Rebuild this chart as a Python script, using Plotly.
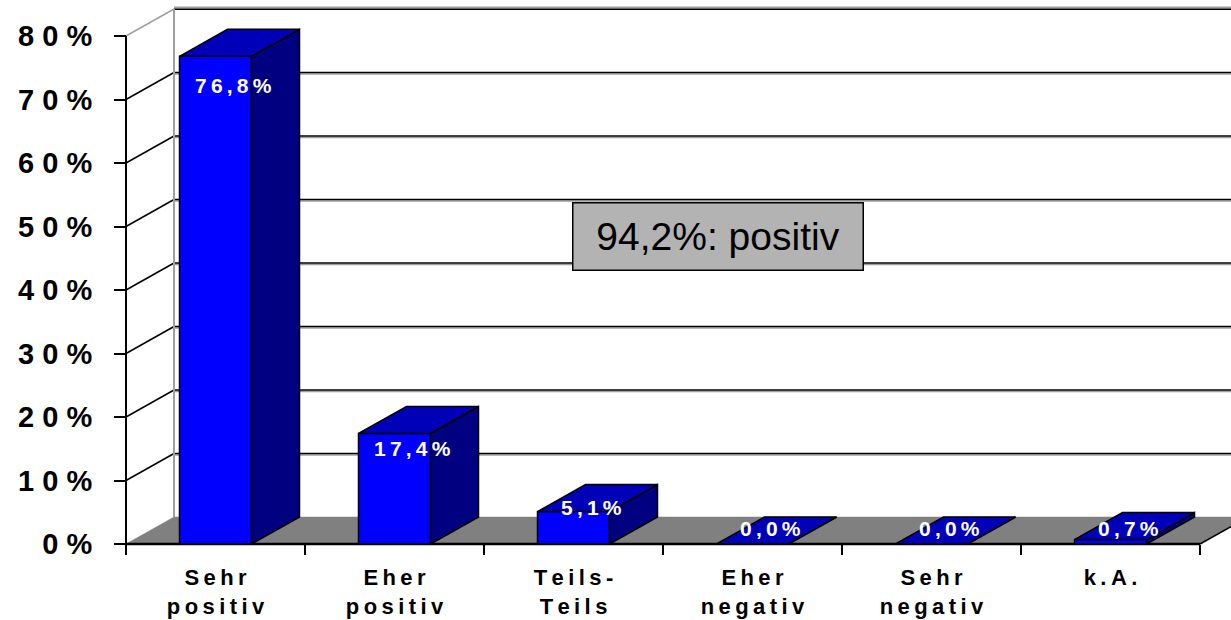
import plotly.graph_objects as go

# ---------------- data ----------------
categories = ["Sehr positiv", "Eher positiv", "Teils-Teils", "Eher negativ", "Sehr negativ", "k.A."]
category_lines = [["Sehr", "positiv"], ["Eher", "positiv"], ["Teils-", "Teils"],
                  ["Eher", "negativ"], ["Sehr", "negativ"], ["k.A."]]
values = [76.8, 17.4, 5.1, 0.0, 0.0, 0.7]
value_labels = ["76,8%", "17,4%", "5,1%", "0,0%", "0,0%", "0,7%"]
y_ticks = [0, 10, 20, 30, 40, 50, 60, 70, 80]
y_tick_labels = ["0%", "10%", "20%", "30%", "40%", "50%", "60%", "70%", "80%"]
summary_text = "94,2%: positiv"

# ---------------- geometry / style ----------------
W, H = 1231, 620
PX_CAT = 179.0          # px per category
PX_PCT = 6.35           # px per percent
X_LEFT_PX = 126.0       # front-left corner of the plot (x = -0.5)
Y_ZERO_PX = 544.0       # front floor line (y = 0)
DX = 48.0 / PX_CAT      # depth offset in x data units
DY = 27.0 / PX_PCT      # depth offset in y data units
BAR_W = 72.0 / PX_CAT
YMAX = 80

x_range = [-0.5 - X_LEFT_PX / PX_CAT, -0.5 + (W - X_LEFT_PX) / PX_CAT]
y_range = [-(H - Y_ZERO_PX) / PX_PCT, Y_ZERO_PX / PX_PCT]

FRONT = "#0000FF"
SIDE = "#000080"
TOP = "#0000B8"
FLOOR = "#808080"
FONT = "Liberation Sans, Arial, sans-serif"
THIN = "\u2009"


def spaced(s, sep):
    return sep.join(list(s))


fig = go.Figure()


def poly(xs, ys, fill, line_color="black", width=1.5):
    fig.add_trace(go.Scatter(x=xs + [xs[0]], y=ys + [ys[0]], mode="lines", fill="toself",
                             fillcolor=fill, line=dict(color=line_color, width=width),
                             hoverinfo="skip", showlegend=False))


def seg(xs, ys, color="black", width=1.5):
    fig.add_trace(go.Scatter(x=xs, y=ys, mode="lines", line=dict(color=color, width=width),
                             hoverinfo="skip", showlegend=False))


x_left = -0.5
x_right = len(categories) - 0.5

# walls: back wall gridlines and side wall gridlines
for v in y_ticks[1:]:
    top = (v == YMAX)
    col = "#A0A0A0" if top else "black"
    if top:
        seg([x_left + DX, x_right + DX + 1], [v + DY + 0.25, v + DY + 0.25], "#A0A0A0", 2)
        seg([x_left + DX, x_right + DX + 1], [v + DY - 0.05, v + DY - 0.05], "black", 1.5)
    else:
        seg([x_left + DX, x_right + DX + 1], [v + DY - 0.25, v + DY - 0.25], "#A0A0A0", 1.5)
        seg([x_left + DX, x_right + DX + 1], [v + DY, v + DY], "black", 1.5)
    seg([x_left, x_left + DX], [v, v + DY], col, 1.5)

# back-left vertical edge
seg([x_left + DX, x_left + DX], [DY, YMAX + DY], "#A0A0A0", 2)

# floor
poly([x_left, x_right, x_right + DX, x_left + DX], [0, 0, DY, DY], FLOOR, line_color=FLOOR, width=0.5)
seg([x_left, x_right], [0, 0], "black", 2.5)
seg([x_right, x_right + DX], [0, DY], "black", 1.5)

# front y-axis line
seg([x_left, x_left], [0, YMAX], "black", 2)

# bars
for i, v in enumerate(values):
    l = i - BAR_W / 2
    r = i + BAR_W / 2
    poly([l, r, r, l], [0, 0, v, v], FRONT)
    poly([r, r + DX, r + DX, r], [0, DY, v + DY, v], SIDE)
    poly([l, r, r + DX, l + DX], [v, v, v + DY, v + DY], TOP)

# data labels
annotations = []
for i, (v, t) in enumerate(zip(values, value_labels)):
    if v >= 50:
        y, ys = v, -29
    elif v >= 10:
        y, ys = v, -15
    else:
        y, ys = max(v + 0.6, 2.5), 0
    annotations.append(dict(x=i + 0.1, y=y, yshift=ys, xref="x", yref="y",
                            text=spaced(t, THIN), showarrow=False,
                            font=dict(family=FONT, size=21, color="white", weight="bold"),
                            xanchor="center", yanchor="middle"))

# summary box
annotations.append(dict(x=(717.5 - X_LEFT_PX) / PX_CAT - 0.5, y=(Y_ZERO_PX - 236) / PX_PCT,
                        xref="x", yref="y", text=summary_text, showarrow=False,
                        font=dict(family=FONT, size=39, color="black"),
                        bgcolor="#B3B3B3", bordercolor="black", borderwidth=1.5, borderpad=0,
                        width=289, height=66, xanchor="center", yanchor="middle"))

cat_text = ["<br>".join(spaced(w, THIN) for w in lines) for lines in category_lines]

fig.update_layout(
    width=W, height=H,
    margin=dict(l=0, r=0, t=0, b=0),
    paper_bgcolor="white", plot_bgcolor="white",
    showlegend=False,
    annotations=annotations,
    xaxis=dict(range=x_range, domain=[0, 1], anchor="free", position=(H - Y_ZERO_PX) / H,
               tickmode="array", tickvals=list(range(len(categories))), ticktext=cat_text,
               ticks="", showgrid=False, zeroline=False, showline=False,
               ticklabelstandoff=18, automargin=False,
               tickfont=dict(family=FONT, size=22, color="black", weight="bold"),
               minor=dict(tickmode="array", tickvals=[k - 0.5 for k in range(len(categories) + 1)],
                          ticks="outside", ticklen=10, tickwidth=2, tickcolor="black", showgrid=False),
               fixedrange=True),
    yaxis=dict(range=y_range, domain=[0, 1], anchor="free", position=X_LEFT_PX / W,
               tickmode="array", tickvals=y_ticks,
               ticktext=[spaced(t, " ") for t in y_tick_labels],
               ticks="outside", ticklen=12, tickwidth=2, tickcolor="black",
               showgrid=False, zeroline=False, showline=False, ticklabelstandoff=16,
               automargin=False,
               tickfont=dict(family=FONT, size=29, color="black", weight="bold"),
               fixedrange=True),
)

fig.write_html("out.html", config={"displayModeBar": False},
               post_script="document.body.style.margin='0';document.body.style.overflow='hidden';")
